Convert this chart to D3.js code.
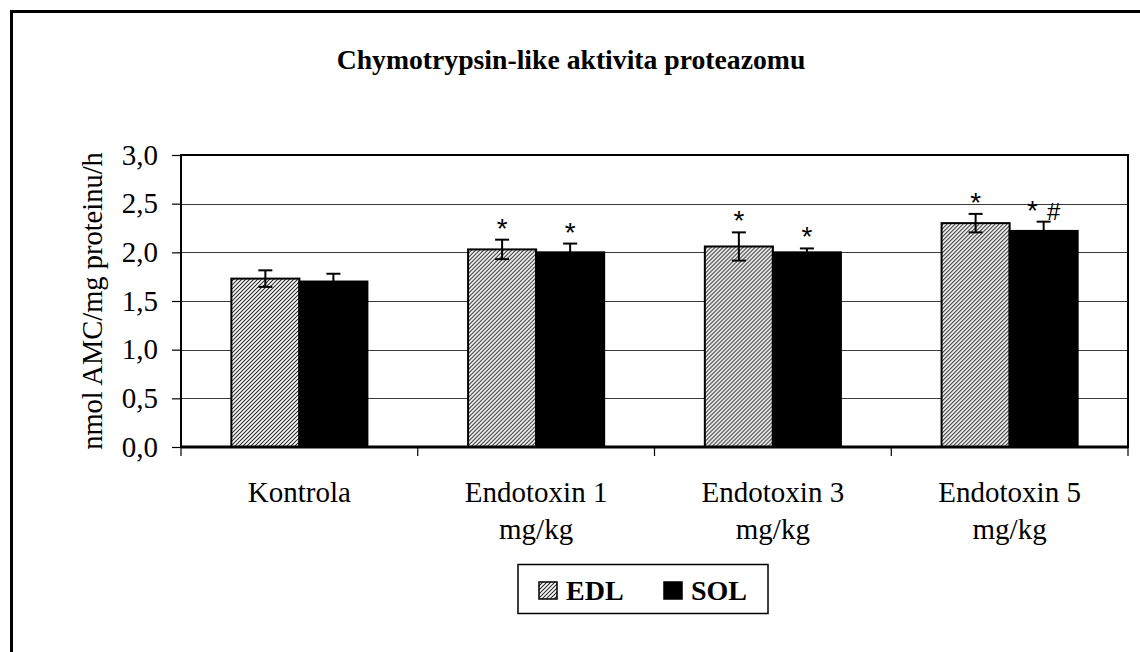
<!DOCTYPE html>
<html>
<head>
<meta charset="utf-8">
<script src="https://cdn.jsdelivr.net/npm/d3@7"></script>
<style>
  html, body { margin: 0; padding: 0; background: #fff; }
  svg { display: block; }
  text { font-family: "Liberation Serif", "Times New Roman", serif; fill: #000; }
  .mark { font-family: "Liberation Sans", Arial, sans-serif; }
</style>
</head>
<body>
<svg id="chart" width="1140" height="652"></svg>
<script>
  // values
  var categories = ["Kontrola", "Endotoxin 1 mg/kg", "Endotoxin 3 mg/kg", "Endotoxin 5 mg/kg"];
  var categoryLines = [["Kontrola"], ["Endotoxin 1", "mg/kg"], ["Endotoxin 3", "mg/kg"], ["Endotoxin 5", "mg/kg"]];
  var seriesNames = ["EDL", "SOL"];
  var edlValues = [1.73, 2.03, 2.06, 2.30];
  var edlErrors = [0.085, 0.10, 0.145, 0.095];
  var solValues = [1.70, 2.00, 2.00, 2.22];
  var solErrors = [0.08, 0.09, 0.04, 0.095];
  var edlMarks = ["", "*", "*", "*"];
  var solMarks = ["", "*", "*", "* #"];
  var yTicks = [0, 0.5, 1, 1.5, 2, 2.5, 3];

  var svg = d3.select("#chart");
  var plot = {left: 181, right: 1128, top: 155, bottom: 447};

  var locale = d3.formatLocale({decimal: ",", thousands: " ", grouping: [3], currency: ["", ""]});
  var fmt = locale.format(".1f");

  var x0 = d3.scaleBand().domain(categories).range([plot.left, plot.right]).padding(0);
  var x1 = d3.scaleBand().domain(seriesNames).range([0, x0.bandwidth()])
    .paddingInner(0).paddingOuter(0.74);
  var y = d3.scaleLinear().domain([0, 3]).range([plot.bottom, plot.top]);

  var defs = svg.append("defs");
  var hatch = defs.append("pattern")
    .attr("id", "hatch")
    .attr("patternUnits", "userSpaceOnUse")
    .attr("width", 4).attr("height", 4);
  hatch.append("rect").attr("width", 4).attr("height", 4).attr("fill", "#fff");
  hatch.append("path")
    .attr("d", "M-1,1 l2,-2 M0,4 l4,-4 M3,5 l2,-2")
    .attr("stroke", "#2a2a2a").attr("stroke-width", 1.1);

  // outer frame (runs off the right and bottom edge like the original)
  svg.append("rect")
    .attr("x", 11.5).attr("y", 11.5).attr("width", 1160).attr("height", 680)
    .attr("fill", "none").attr("stroke", "#000").attr("stroke-width", 3);

  svg.append("text")
    .attr("x", 571).attr("y", 69)
    .attr("text-anchor", "middle")
    .style("font-size", "27.7px").style("font-weight", "bold")
    .text("Chymotrypsin-like aktivita proteazomu");

  // gridlines
  svg.append("g").selectAll("line")
    .data(yTicks.filter(function(d) { return d > 0 && d < 3; }))
    .enter().append("line")
    .attr("x1", plot.left).attr("x2", plot.right)
    .attr("y1", function(d) { return Math.round(y(d)) + 0.5; })
    .attr("y2", function(d) { return Math.round(y(d)) + 0.5; })
    .attr("stroke", "#3a3a3a").attr("stroke-width", 1);

  // y axis
  var yAxis = d3.axisLeft(y).tickValues(yTicks).tickFormat(fmt)
    .tickSizeInner(9).tickSizeOuter(0).tickPadding(14);
  var gy = svg.append("g").attr("transform", "translate(" + plot.left + ",0)").call(yAxis);
  gy.select(".domain").remove();
  gy.selectAll(".tick line").attr("stroke", "#000").attr("stroke-width", 1.2);
  gy.selectAll(".tick text")
    .style("font-family", "'Liberation Serif', 'Times New Roman', serif")
    .style("font-size", "29px");

  // x ticks sit on the category boundaries
  var bounds = categories.map(function(c) { return x0(c); }).concat([plot.right]);
  svg.append("g").selectAll("line")
    .data(bounds).enter().append("line")
    .attr("x1", function(d) { return d; }).attr("x2", function(d) { return d; })
    .attr("y1", plot.bottom).attr("y2", plot.bottom + 9)
    .attr("stroke", "#000").attr("stroke-width", 1.2);

  var rows = categories.map(function(c, i) {
    return {cat: c, vals: [
      {s: "EDL", v: edlValues[i], e: edlErrors[i], m: edlMarks[i]},
      {s: "SOL", v: solValues[i], e: solErrors[i], m: solMarks[i]}
    ]};
  });

  var groups = svg.append("g").selectAll("g")
    .data(rows).enter().append("g")
    .attr("transform", function(d) { return "translate(" + x0(d.cat) + ",0)"; });

  groups.selectAll("rect")
    .data(function(d) { return d.vals; })
    .enter().append("rect")
    .attr("x", function(d) { return x1(d.s); })
    .attr("y", function(d) { return y(d.v); })
    .attr("width", x1.bandwidth())
    .attr("height", function(d) { return y(0) - y(d.v); })
    .attr("fill", function(d) { return d.s === "EDL" ? "url(#hatch)" : "#000"; })
    .attr("stroke", "#000").attr("stroke-width", 2);

  // error bars
  var err = groups.selectAll("g.err")
    .data(function(d) { return d.vals; })
    .enter().append("g").attr("class", "err")
    .attr("stroke", "#000").attr("stroke-width", 2);
  var cx = function(d) { return x1(d.s) + x1.bandwidth() / 2; };
  err.append("line")
    .attr("x1", cx).attr("x2", cx)
    .attr("y1", function(d) { return y(d.v + d.e); })
    .attr("y2", function(d) { return y(d.v - d.e); });
  err.append("line")
    .attr("x1", function(d) { return cx(d) - 7; }).attr("x2", function(d) { return cx(d) + 7; })
    .attr("y1", function(d) { return y(d.v + d.e); }).attr("y2", function(d) { return y(d.v + d.e); });
  err.append("line")
    .attr("x1", function(d) { return cx(d) - 7; }).attr("x2", function(d) { return cx(d) + 7; })
    .attr("y1", function(d) { return y(d.v - d.e); }).attr("y2", function(d) { return y(d.v - d.e); })
    .attr("stroke", function(d) { return d.s === "SOL" ? "none" : "#000"; });

  // significance marks
  var marks = groups.selectAll("text.mark")
    .data(function(d) { return d.vals.filter(function(v) { return v.m; }); })
    .enter().append("text").attr("class", "mark")
    .attr("x", cx)
    .attr("y", function(d) { return y(d.v + d.e) - 2; })
    .attr("text-anchor", "middle");
  marks.selectAll("tspan")
    .data(function(d) { return d.m.split(" "); })
    .enter().append("tspan")
    .attr("dx", function(d, i) { return i ? 9 : 0; })
    .style("font-size", function(d) { return d === "*" ? "28px" : "24px"; })
    .text(function(d) { return d; });

  // plot frame
  svg.append("rect")
    .attr("x", plot.left).attr("y", plot.top)
    .attr("width", plot.right - plot.left).attr("height", plot.bottom - plot.top)
    .attr("fill", "none").attr("stroke", "#000").attr("stroke-width", 2);
  svg.append("line")
    .attr("x1", plot.left).attr("x2", plot.right)
    .attr("y1", plot.bottom).attr("y2", plot.bottom)
    .attr("stroke", "#000").attr("stroke-width", 3);

  // category labels
  var lab = svg.append("g").selectAll("text")
    .data(categories).enter().append("text")
    .attr("text-anchor", "middle")
    .style("font-size", "29px");
  lab.selectAll("tspan")
    .data(function(d, i) { return categoryLines[i].map(function(t) { return {t: t, c: d}; }); })
    .enter().append("tspan")
    .attr("x", function(d) { return x0(d.c) + x0.bandwidth() / 2; })
    .attr("y", function(d, i) { return 502 + i * 37; })
    .text(function(d) { return d.t; });

  // y axis title
  svg.append("text")
    .attr("transform", "translate(102," + ((plot.top + plot.bottom) / 2) + ") rotate(-90)")
    .attr("text-anchor", "middle")
    .style("font-size", "28.5px")
    .text("nmol AMC/mg proteinu/h");

  // legend
  var leg = svg.append("g");
  leg.append("rect")
    .attr("x", 518).attr("y", 564.5).attr("width", 250).attr("height", 49)
    .attr("fill", "#fff").attr("stroke", "#000").attr("stroke-width", 1.5);
  var items = leg.selectAll("g.item")
    .data(seriesNames).enter().append("g").attr("class", "item")
    .attr("transform", function(d, i) { return "translate(" + (539 + i * 125) + ",582)"; });
  items.append("rect")
    .attr("width", 18).attr("height", 17)
    .attr("fill", function(d) { return d === "EDL" ? "url(#hatch)" : "#000"; })
    .attr("stroke", "#000").attr("stroke-width", 1.5);
  items.append("text")
    .attr("x", 27).attr("y", 18)
    .style("font-size", "28px").style("font-weight", "bold")
    .text(function(d) { return d; });
</script>
</body>
</html>
